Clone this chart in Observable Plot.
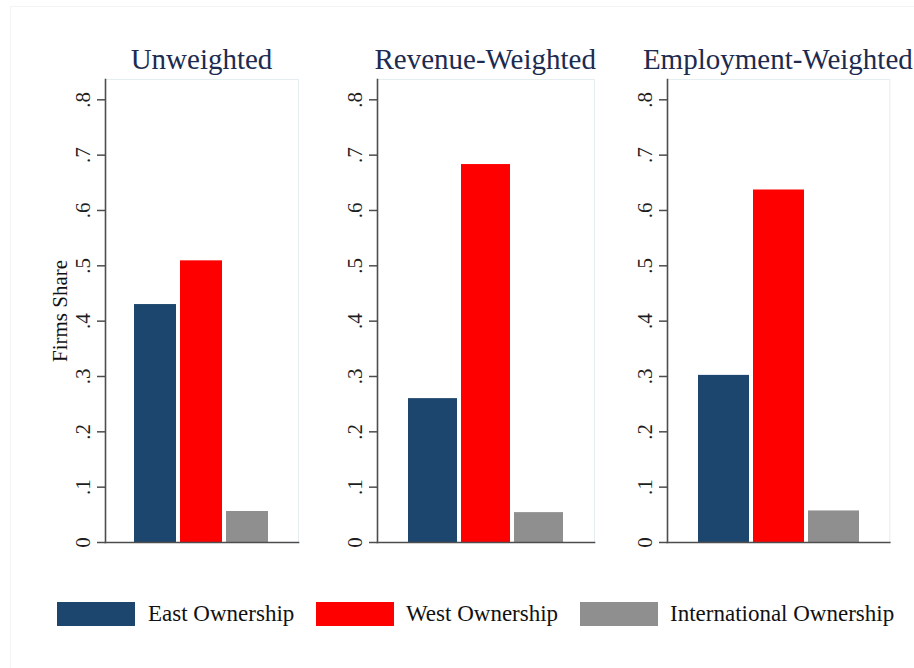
<!DOCTYPE html>
<html>
<head>
<meta charset="utf-8">
<script src="https://cdn.jsdelivr.net/npm/d3@7"></script>
<script src="https://cdn.jsdelivr.net/npm/@observablehq/plot@0.6"></script>
<style>
  html, body { margin: 0; padding: 0; background: #ffffff; }
  #chart { position: relative; width: 914px; height: 668px; background: #ffffff; overflow: hidden;
           font-family: "Liberation Serif", "Times New Roman", serif; }
  #outer { position: absolute; left: 10px; top: 6px; width: 920px; height: 700px;
           border-left: 1px solid #f3f3f3; border-top: 1px solid #f3f3f3; }
  .title { position: absolute; width: 320px; text-align: center; font-size: 29px; line-height: 29px;
           color: #1c2b4f; white-space: nowrap; }
  .panel { position: absolute; top: 0; }
  .sw { position: absolute; width: 78px; height: 24px; top: 602px; box-sizing: border-box; }
  .lt { position: absolute; top: 602px; font-size: 23px; line-height: 23px; color: #111; white-space: nowrap; }
</style>
</head>
<body>
<div id="chart"><div id="outer"></div></div>
<script>
// ---- data ----
const panels = ["Unweighted", "Revenue-Weighted", "Employment-Weighted"];
const owners = ["East Ownership", "West Ownership", "International Ownership"];
const eastShare = [0.430, 0.260, 0.302];
const westShare = [0.509, 0.683, 0.637];
const intlShare = [0.056, 0.054, 0.057];
const yTicks = [0, 0.1, 0.2, 0.3, 0.4, 0.5, 0.6, 0.7, 0.8];
const ownerColors = ["#1c466d", "#ff0000", "#8f8f8f"];
const yLabel = "Firms Share";

// ---- layout ----
const plotLeft = [105, 376.7, 666.7];
const plotRight = [298, 593.7, 889];
const outerPad = [0.62, 0.58, 0.55];
const mL = 65, mR = 4, H = 560, mT = 79, mB = 18;
const yTop = 0.8367;

const chart = document.getElementById("chart");
const fmt = d => d === 0 ? "0" : d3.format(".1f")(d).replace(/^0/, "");
const series = [eastShare, westShare, intlShare];

panels.forEach((p, i) => {
  const data = owners.map((o, k) => ({owner: o, value: series[k][i]}));
  const width = (plotRight[i] - plotLeft[i]) + mL + mR;
  const marks = [
    Plot.frame({stroke: "#e4edf0", strokeWidth: 1}),
    Plot.barY(data, {x: "owner", y: "value", fill: "owner", insetLeft: 0, insetRight: 0}),
    Plot.axisY({ticks: yTicks, tickFormat: fmt, tickSize: 8, tickPadding: 14,
                tickRotate: -90, textAnchor: "middle", lineAnchor: "middle",
                fontSize: 21, fill: "#1e1e1e", stroke: "#4d4d4d", strokeWidth: 1.5, label: null}),
    Plot.frame({anchor: "left", stroke: "#4d4d4d", strokeWidth: 1.6}),
    Plot.frame({anchor: "bottom", stroke: "#4d4d4d", strokeWidth: 1.6})
  ];
  if (i === 0) {
    marks.push(Plot.text([yLabel], {text: d => d, frameAnchor: "left", dx: -45, rotate: -90,
      fontSize: 21, textAnchor: "middle", lineAnchor: "middle", fill: "#111"}));
  }
  const svg = Plot.plot({
    width, height: H,
    marginLeft: mL, marginRight: mR, marginTop: mT, marginBottom: mB,
    style: {fontFamily: "Liberation Serif", fontSize: "21px", color: "#4d4d4d", background: "transparent", overflow: "visible"},
    x: {domain: owners, axis: null, paddingInner: 0.08, paddingOuter: outerPad[i]},
    y: {domain: [0, yTop], axis: null},
    color: {domain: owners, range: ownerColors},
    marks
  });
  svg.classList.add("panel");
  svg.style.left = (plotLeft[i] - mL) + "px";
  chart.appendChild(svg);

  const t = document.createElement("div");
  t.className = "title";
  t.textContent = p;
  t.style.left = ((plotLeft[i] + plotRight[i]) / 2 - 160) + "px";
  t.style.top = "45px";
  chart.appendChild(t);
});

// ---- legend ----
const swX = [57, 316, 580];
const txX = [148, 406, 670];
owners.forEach((o, k) => {
  const s = document.createElement("div");
  s.className = "sw";
  s.style.left = swX[k] + "px";
  s.style.background = ownerColors[k];
  chart.appendChild(s);
  const l = document.createElement("div");
  l.className = "lt";
  l.style.left = txX[k] + "px";
  l.textContent = o;
  chart.appendChild(l);
});
</script>
</body>
</html>
